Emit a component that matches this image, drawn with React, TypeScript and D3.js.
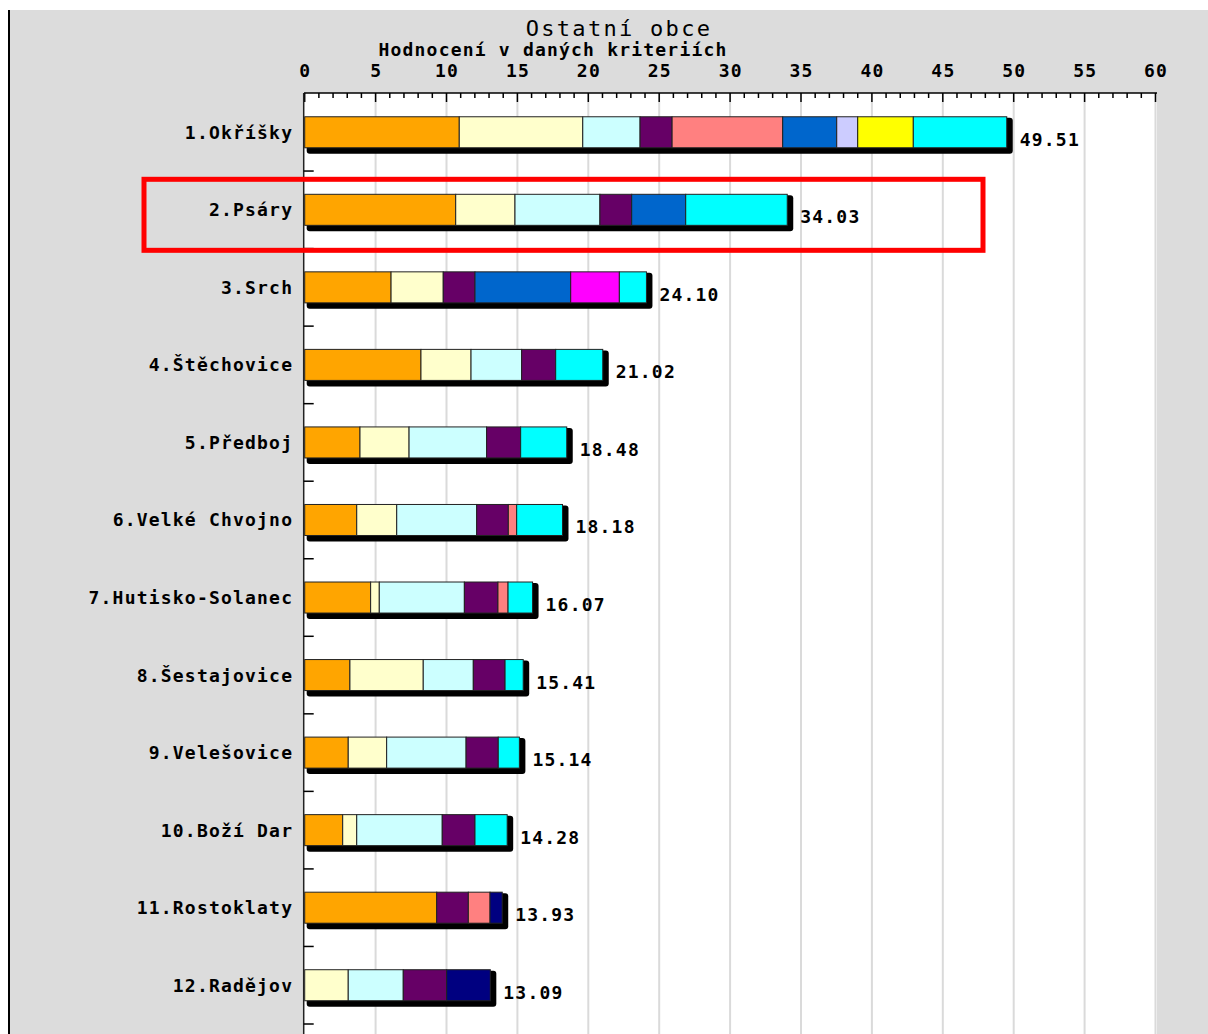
import React from "react";
import * as d3 from "d3";

const categories = [
  "1.Okříšky",
  "2.Psáry",
  "3.Srch",
  "4.Štěchovice",
  "5.Předboj",
  "6.Velké Chvojno",
  "7.Hutisko-Solanec",
  "8.Šestajovice",
  "9.Velešovice",
  "10.Boží Dar",
  "11.Rostoklaty",
  "12.Radějov",
];
const totals = [49.51, 34.03, 24.1, 21.02, 18.48, 18.18, 16.07, 15.41, 15.14, 14.28, 13.93, 13.09];

const k1 = [10.9, 10.65, 6.09, 8.2, 3.9, 3.67, 4.65, 3.19, 3.07, 2.68, 9.31, 0];
const k2 = [8.71, 4.18, 3.68, 3.53, 3.46, 2.82, 0.61, 5.17, 2.71, 0.99, 0, 3.07];
const k3 = [4.04, 5.99, 0, 3.57, 5.47, 5.64, 6.0, 3.53, 5.6, 6.03, 0, 3.88];
const k4 = [2.26, 2.24, 2.24, 2.4, 2.4, 2.23, 2.37, 2.24, 2.27, 2.31, 2.23, 3.06];
const k5 = [7.8, 0, 0, 0, 0, 0.59, 0.71, 0, 0, 0, 1.53, 0];
const k6 = [3.81, 3.81, 6.75, 0, 0, 0, 0, 0, 0, 0, 0, 0];
const k7 = [1.48, 0, 0, 0, 0, 0, 0, 0, 0, 0, 0, 0];
const k8 = [3.92, 0, 0, 0, 0, 0, 0, 0, 0, 0, 0, 0];
const k9 = [0, 0, 3.43, 0, 0, 0, 0, 0, 0, 0, 0, 0];
const k10 = [6.59, 7.16, 1.91, 3.32, 3.25, 3.23, 1.73, 1.28, 1.49, 2.27, 0, 0];
const k11 = [0, 0, 0, 0, 0, 0, 0, 0, 0, 0, 0.86, 3.08];

const seriesKeys = ["k1", "k2", "k3", "k4", "k5", "k6", "k7", "k8", "k9", "k10", "k11"];
const seriesValues = [k1, k2, k3, k4, k5, k6, k7, k8, k9, k10, k11];
const seriesColors = [
  "#ffa500",
  "#ffffcc",
  "#ccffff",
  "#660066",
  "#ff8080",
  "#0066cc",
  "#ccccff",
  "#ffff00",
  "#ff00ff",
  "#00ffff",
  "#000080",
];

const title = "Ostatní obce";
const subtitle = "Hodnocení v daných kriteriích";
const highlighted = "2.Psáry";

const FONT = "'DejaVu Sans Mono', 'Liberation Mono', monospace";
const FS = 18;
const LS = 1.2;

export default function App() {
  const W = 1208;
  const H = 1034;
  const x = d3.scaleLinear().domain([0, 60]).range([304.7, 1155.5]);
  const y = d3
    .scaleBand<string>()
    .domain(categories)
    .range([93.5, 1024])
    .paddingInner(0.6)
    .paddingOuter(0.3);
  const bw = y.bandwidth();
  const step = y.step();

  const table = categories.map((c, i) => {
    const row: any = { cat: c };
    seriesKeys.forEach((k, j) => (row[k] = seriesValues[j][i]));
    return row;
  });
  const stacked = d3.stack<any>().keys(seriesKeys)(table);

  const majorTicks = x.ticks(12);
  const minorTicks = d3.range(0, 61, 1);
  const bandEdges = categories.map((c) => (y(c) as number) + bw + step * 0.3);

  const plotLeft = x(0) - 0.7;
  const plotRight = x(60) + 1.5;
  const axisY = 93;

  const hy = y(highlighted) as number;

  return (
    <svg
      width={W}
      height={H}
      style={{ position: "absolute", left: 0, top: 0, display: "block" }}
      fontFamily={FONT}
    >
      <rect x={0} y={0} width={W} height={H} fill="#ffffff" />
      <rect x={9} y={10} width={W - 9} height={H - 10} fill="#dcdcdc" />
      <line x1={9} x2={9} y1={10} y2={H} stroke="#000" strokeWidth={2} />

      {/* plot area */}
      <rect x={plotLeft} y={axisY} width={plotRight - plotLeft} height={H - axisY} fill="#ffffff" />
      {majorTicks
        .filter((t) => t > 0)
        .map((t) => (
          <line key={"g" + t} x1={x(t)} x2={x(t)} y1={axisY} y2={H} stroke="#dadada" strokeWidth={2} />
        ))}

      {/* top axis */}
      <line x1={plotLeft} x2={plotRight} y1={axisY} y2={axisY} stroke="#000" strokeWidth={1.5} />
      {minorTicks.map((t) => (
        <line
          key={"t" + t}
          x1={x(t)}
          x2={x(t)}
          y1={axisY}
          y2={axisY + (t % 5 === 0 ? 9 : 5)}
          stroke="#000"
          strokeWidth={1.5}
        />
      ))}
      {majorTicks.map((t) => (
        <text
          key={"l" + t}
          x={x(t) + LS / 2}
          y={77}
          textAnchor="middle"
          fontSize={FS}
          fontWeight="bold"
          letterSpacing={LS}
          fill="#000"
        >
          {t}
        </text>
      ))}

      {/* left axis */}
      <line x1={x(0) - 1} x2={x(0) - 1} y1={axisY} y2={H} stroke="#222" strokeWidth={1.5} />
      {bandEdges.map((e, i) => (
        <line key={"be" + i} x1={x(0) - 1} x2={x(0) + 9} y1={e} y2={e} stroke="#000" strokeWidth={1.5} />
      ))}

      {/* bar shadows */}
      {categories.map((c, i) => {
        const y0 = y(c) as number;
        const xEnd = x(totals[i]);
        return (
          <rect
            key={"sh" + c}
            x={x(0) + 2}
            y={y0 + 1}
            width={xEnd - x(0) + 4}
            height={bw + 5}
            rx={3}
            fill="#000"
          />
        );
      })}
      {/* stacked segments */}
      {stacked.map((s, j) =>
        s.map((d, i) => {
          const w = x(d[1]) - x(d[0]);
          if (w <= 0) return null;
          return (
            <rect
              key={"s" + j + "-" + i}
              x={x(d[0])}
              y={y(categories[i]) as number}
              width={w}
              height={bw}
              fill={seriesColors[j]}
              stroke="#222"
              strokeWidth={1}
            />
          );
        })
      )}

      {/* category labels */}
      {categories.map((c) => (
        <text
          key={"cl" + c}
          x={292 + LS}
          y={(y(c) as number) + bw / 2 + 6.5}
          textAnchor="end"
          fontSize={FS}
          fontWeight="bold"
          letterSpacing={LS}
          fill="#000"
        >
          {c}
        </text>
      ))}

      {/* value labels */}
      {categories.map((c, i) => (
        <text
          key={"vl" + c}
          x={x(totals[i]) + 13}
          y={(y(c) as number) + 29}
          fontSize={FS}
          fontWeight="bold"
          letterSpacing={LS}
          fill="#000"
        >
          {totals[i].toFixed(2)}
        </text>
      ))}

      {/* titles */}
      <text x={619} y={36} textAnchor="middle" fontSize={22} letterSpacing={2.3} fill="#000">
        {title}
      </text>
      <text x={553} y={56} textAnchor="middle" fontSize={FS} fontWeight="bold" letterSpacing={LS} fill="#000">
        {subtitle}
      </text>

      {/* highlight */}
      <rect
        x={144}
        y={hy - 15}
        width={839}
        height={bw + 40}
        fill="none"
        stroke="#ff0000"
        strokeWidth={5}
      />
    </svg>
  );
}
